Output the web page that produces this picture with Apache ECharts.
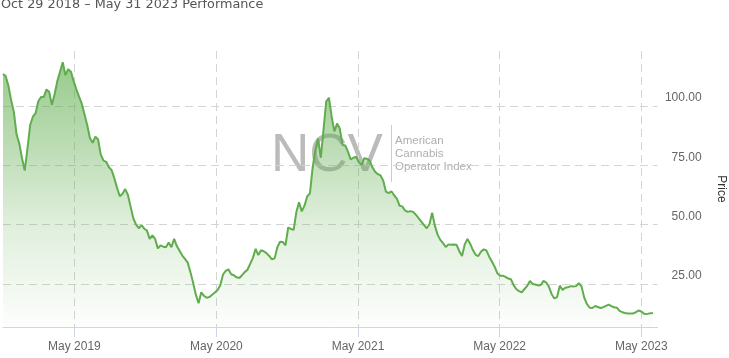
<!DOCTYPE html>
<html><head><meta charset="utf-8">
<script src="https://cdn.jsdelivr.net/npm/echarts@6/dist/echarts.min.js"></script>
<style>html,body{margin:0;padding:0;background:#fff}#c{width:729px;height:358px}</style>
</head><body><div id="c"></div>
<script>
const titleText = 'Oct 29 2018 \u2013 May 31 2023 Performance';
const dates = [
'2018-10-29','2018-11-05','2018-11-12','2018-11-19','2018-11-26','2018-12-03','2018-12-10','2018-12-17','2018-12-24','2018-12-31',
'2019-01-07','2019-01-14','2019-01-21','2019-01-28','2019-02-04','2019-02-11','2019-02-18','2019-02-25','2019-03-04','2019-03-11',
'2019-03-18','2019-03-25','2019-04-01','2019-04-08','2019-04-15','2019-04-22','2019-04-29','2019-05-06','2019-05-13','2019-05-20',
'2019-05-27','2019-06-03','2019-06-10','2019-06-17','2019-06-24','2019-07-01','2019-07-08','2019-07-15','2019-07-22','2019-07-29',
'2019-08-05','2019-08-12','2019-08-19','2019-08-26','2019-09-02','2019-09-09','2019-09-16','2019-09-23','2019-09-30','2019-10-07',
'2019-10-14','2019-10-21','2019-10-28','2019-11-04','2019-11-11','2019-11-18','2019-11-25','2019-12-02','2019-12-09','2019-12-16',
'2019-12-23','2019-12-30','2020-01-06','2020-01-13','2020-01-20','2020-01-27','2020-02-03','2020-02-10','2020-02-17','2020-02-24',
'2020-03-02','2020-03-09','2020-03-16','2020-03-23','2020-03-30','2020-04-06','2020-04-13','2020-04-20','2020-04-27','2020-05-04',
'2020-05-11','2020-05-18','2020-05-25','2020-06-01','2020-06-08','2020-06-15','2020-06-22','2020-06-29','2020-07-06','2020-07-13',
'2020-07-20','2020-07-27','2020-08-03','2020-08-10','2020-08-17','2020-08-24','2020-08-31','2020-09-07','2020-09-14','2020-09-21',
'2020-09-28','2020-10-05','2020-10-12','2020-10-19','2020-10-26','2020-11-02','2020-11-09','2020-11-16','2020-11-23','2020-11-30',
'2020-12-07','2020-12-14','2020-12-21','2020-12-28','2021-01-04','2021-01-11','2021-01-18','2021-01-25','2021-02-01','2021-02-08',
'2021-02-15','2021-02-22','2021-03-01','2021-03-08','2021-03-15','2021-03-22','2021-03-29','2021-04-05','2021-04-12','2021-04-19',
'2021-04-26','2021-05-03','2021-05-10','2021-05-17','2021-05-24','2021-05-31','2021-06-07','2021-06-14','2021-06-21','2021-06-28',
'2021-07-05','2021-07-12','2021-07-19','2021-07-26','2021-08-02','2021-08-09','2021-08-16','2021-08-23','2021-08-30','2021-09-06',
'2021-09-13','2021-09-20','2021-09-27','2021-10-04','2021-10-11','2021-10-18','2021-10-25','2021-11-01','2021-11-08','2021-11-15',
'2021-11-22','2021-11-29','2021-12-06','2021-12-13','2021-12-20','2021-12-27','2022-01-03','2022-01-10','2022-01-17','2022-01-24',
'2022-01-31','2022-02-07','2022-02-14','2022-02-21','2022-02-28','2022-03-07','2022-03-14','2022-03-21','2022-03-28','2022-04-04',
'2022-04-11','2022-04-18','2022-04-25','2022-05-02','2022-05-09','2022-05-16','2022-05-23','2022-05-30','2022-06-06','2022-06-13',
'2022-06-20','2022-06-27','2022-07-04','2022-07-11','2022-07-18','2022-07-25','2022-08-01','2022-08-08','2022-08-15','2022-08-22',
'2022-08-29','2022-09-05','2022-09-12','2022-09-19','2022-09-26','2022-10-03','2022-10-10','2022-10-17','2022-10-24','2022-10-31',
'2022-11-07','2022-11-14','2022-11-21','2022-11-28','2022-12-05','2022-12-12','2022-12-19','2022-12-26','2023-01-02','2023-01-09',
'2023-01-16','2023-01-23','2023-01-30','2023-02-06','2023-02-13','2023-02-20','2023-02-27','2023-03-06','2023-03-13','2023-03-20',
'2023-03-27','2023-04-03','2023-04-10','2023-04-17','2023-04-24','2023-05-01','2023-05-08','2023-05-15','2023-05-22','2023-05-29',
'2023-05-31'
];
const prices = [
113.5,112.6,108.5,102.5,97.5,88,84.2,78,72.8,82,
92,95.5,97,102,103.8,103.8,107,106,100.5,105,
110.5,114.5,118.5,113,115.5,114.5,110.5,107,104,101,
96.5,92,86.5,84.5,87.1,86,79.5,77,76.5,74.2,
73,69.5,65.5,62,63,65,62.5,57.5,52.6,50,
48.5,49.8,48.3,47.5,44,45.5,44,40,41.3,40.7,
40.5,42.5,40.5,44,41,39,37,35.6,34,30,
25.5,20.5,16.9,21.5,20,19.2,19.5,20.5,21.4,22.5,
24.5,29,30.5,31.2,29.1,28.7,27.8,27.5,28.7,30,
31,33.5,36,39.8,37.2,39.2,38.8,38,36.8,35.4,
35.8,40.5,42.8,42.7,41.3,48.8,48.2,47.8,55.3,59.4,
55.6,58,62,63.2,74,81.5,86.3,78.2,90,102,
103.5,95.5,89.3,92.6,90.5,83.6,83.4,80.8,77.5,78.2,
78.6,76.3,75.2,78,77.8,77,74.2,72.3,71.3,70.8,
68.5,63.9,63.3,64.1,62.4,61,58,57.7,56,55.4,
55.7,55.4,54.2,52.8,51.3,49.8,48.5,50.2,55,49.6,
45.8,43.6,42.2,40.6,41.7,41.5,41.6,41.5,38.8,36.8,
41.7,44,42,39.3,37.3,36.8,38.7,39.6,39.1,36.5,
34.5,32.3,29.5,28.5,28.5,28,27.3,27,24.5,22.8,
22,21.5,22.9,24.2,26.3,25,24.8,24.4,24.6,26.3,
25.6,23.8,20.7,18.9,19.5,24.3,22.5,23.4,23.6,24.1,
23.9,24.1,25.3,24,19.2,16.5,15,14.9,15.7,15.3,
14.9,15.2,15.8,16.3,15.7,15.2,15,13.7,13.1,12.8,
12.6,12.6,12.6,13.1,13.8,13.4,12.5,12.3,12.6,12.8,
12.9
];
const xTickDates = ['2019-05-01','2020-05-01','2021-05-01','2022-05-01','2023-05-01'];
const xTickLabels = ['May 2019','May 2020','May 2021','May 2022','May 2023'];
const yTicks = [25, 50, 75, 100];
const axisName = 'Price';
const watermarkMain = 'NCV';
const watermarkSub = ['American', 'Cannabis', 'Operator Index'];

function toTime(d) { return Date.parse(d + 'T00:00:00Z'); }
const xTickTimes = xTickDates.map(toTime);
const seriesData = dates.map((d, i) => [toTime(d), prices[i]]);

const chart = echarts.init(document.getElementById('c'));
const gridStyle = { color: '#d4d4d4', type: [8, 5], width: 1 };
chart.setOption({
  animation: false,
  title: {
    text: titleText, left: 1, top: -2, padding: 0,
    textStyle: { fontFamily: 'DejaVu Sans', fontSize: 12.8, fontWeight: 'normal', color: '#555' }
  },
  grid: { left: 3, right: 71.4, top: 51, bottom: 31, containLabel: false, outerBoundsMode: 'none' },
  xAxis: {
    type: 'value', min: toTime('2018-10-29'), max: toTime('2023-06-12'),
    axisLine: { lineStyle: { color: '#ccd6eb', width: 1 } },
    axisTick: { show: true, length: 10, customValues: xTickTimes, lineStyle: { color: '#ccd6eb' } },
    axisLabel: {
      customValues: xTickTimes, margin: 14, color: '#666', fontSize: 12, fontFamily: 'Liberation Sans',
      formatter: v => { const k = xTickTimes.indexOf(v); return k >= 0 ? xTickLabels[k] : ''; }
    },
    splitLine: { show: true, lineStyle: gridStyle }
  },
  yAxis: {
    type: 'value', position: 'right', min: 6.87, max: 123.2,
    axisLine: { show: false },
    axisTick: { show: false, customValues: yTicks },
    axisLabel: {
      customValues: yTicks, formatter: v => v.toFixed(2), color: '#666', fontSize: 12,
      fontFamily: 'Liberation Sans', align: 'right', margin: 44, verticalAlign: 'bottom', padding: [0, 0, 2, 0]
    },
    splitLine: { show: true, lineStyle: gridStyle },
    name: axisName, nameLocation: 'middle', nameRotate: -90, nameGap: 58,
    nameTextStyle: { color: '#333', fontSize: 12, fontFamily: 'Liberation Sans' }
  },
  graphic: [
    { type: 'text', z: 0, left: 271, top: 130, style: { text: watermarkMain, font: '53px "Liberation Sans"', fill: 'rgba(120,120,120,0.5)' } },
    { type: 'line', z: 0, shape: { x1: 391.5, y1: 125, x2: 391.5, y2: 182 }, style: { stroke: 'rgba(170,170,170,0.6)', lineWidth: 1 } },
    { type: 'text', z: 0, left: 395, top: 134, style: { text: watermarkSub.join('\n'), font: '500 11.5px "Liberation Sans"', lineHeight: 13, fill: 'rgba(140,140,140,0.7)' } }
  ],
  series: [{
    type: 'line', data: seriesData, showSymbol: false, symbol: 'none', z: 3,
    lineStyle: { color: '#60ad4e', width: 2 },
    areaStyle: {
      color: new echarts.graphic.LinearGradient(0, 0, 0, 1, [
        { offset: 0, color: 'rgba(96,173,78,0.92)' },
        { offset: 0.3, color: 'rgba(96,173,78,0.62)' },
        { offset: 0.62, color: 'rgba(96,173,78,0.28)' },
        { offset: 1, color: 'rgba(96,173,78,0.02)' }
      ])
    }
  }]
});
</script></body></html>
